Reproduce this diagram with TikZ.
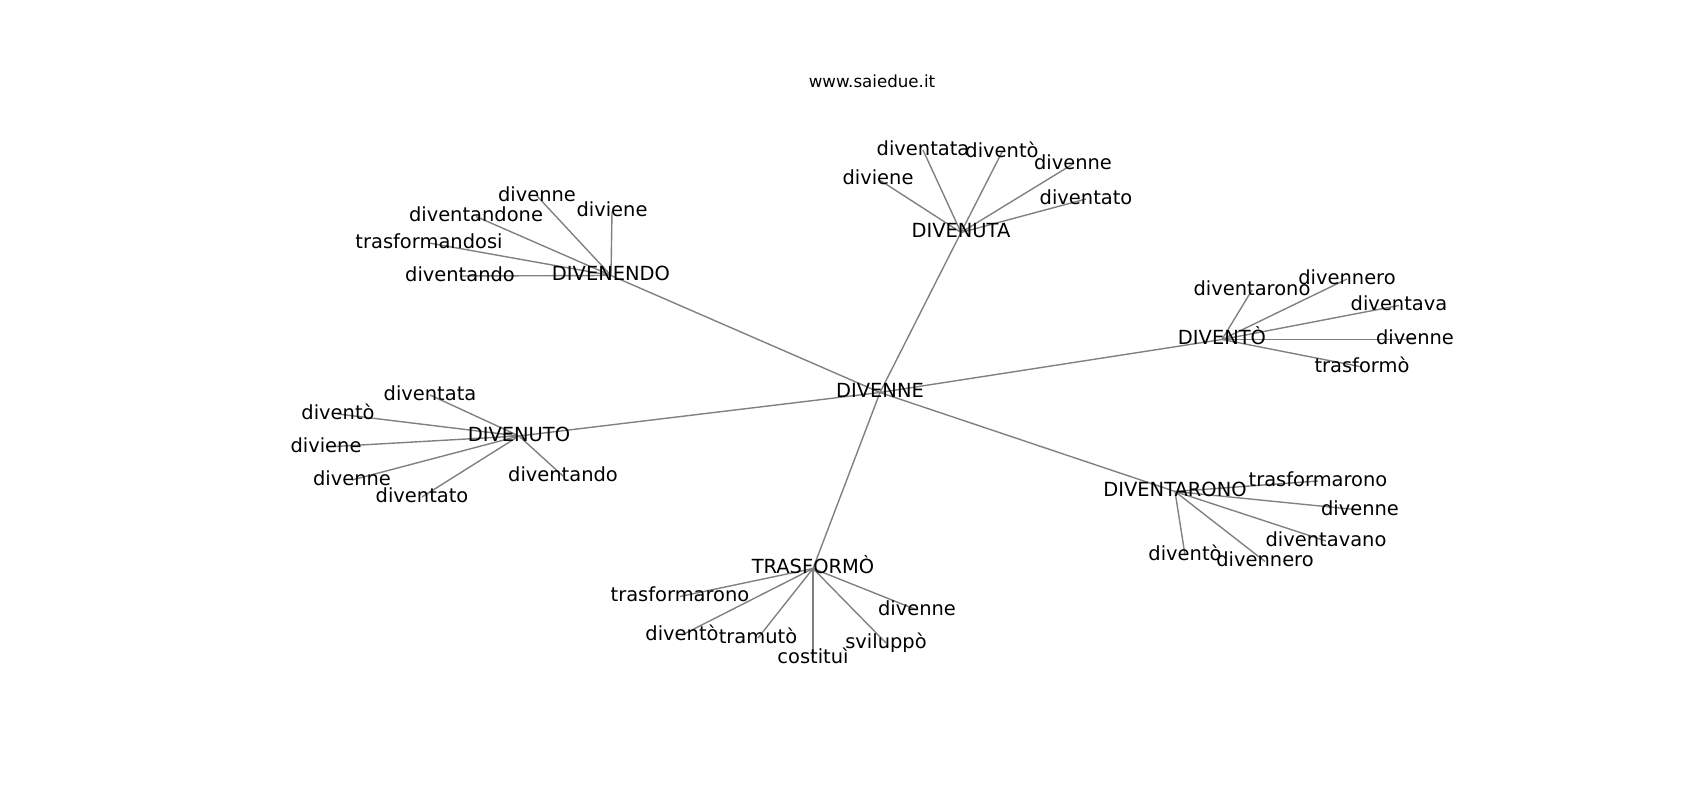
\documentclass[tikz,border=0pt]{standalone}
\usepackage{fontspec}
\setmainfont{DejaVu Sans}
\pgfdeclarelayer{background}
\pgfsetlayers{background,main}
\begin{document}
\begin{tikzpicture}[x=0.01in,y=-0.01in,
  lbl/.style={inner sep=0pt,outer sep=0pt,anchor=center,text height=10.64bp,text depth=2.91bp,font=\fontsize{14bp}{17bp}\selectfont},
  ttl/.style={inner sep=0pt,outer sep=0pt,anchor=center,text height=9.12bp,text depth=2.5bp,font=\fontsize{12bp}{14bp}\selectfont},
  edge/.style={draw=black!50,line width=1bp}]
\useasboundingbox (0,0) rectangle (1700,800);
\node[ttl] (title) at (872,83) {www.saiedue.it};
% centre
\node[lbl] (c) at (880,392.5) {DIVENNE};
% DIVENENDO
\node[lbl] (h1) at (611,275.5) {DIVENENDO};
\node[lbl] (h1a) at (537,196) {divenne};
\node[lbl] (h1b) at (612,211.5) {diviene};
\node[lbl] (h1c) at (476,216.5) {diventandone};
\node[lbl] (h1d) at (429,243) {trasformandosi};
\node[lbl] (h1e) at (460,276) {diventando};
% DIVENUTA
\node[lbl] (h2) at (961,232.5) {DIVENUTA};
\node[lbl] (h2a) at (923,150) {diventata};
\node[lbl] (h2b) at (1002,152) {diventò};
\node[lbl] (h2c) at (1073,164) {divenne};
\node[lbl] (h2d) at (878,179) {diviene};
\node[lbl] (h2e) at (1086,199) {diventato};
% DIVENTO
\node[lbl] (h3) at (1222,339.5) {DIVENTÒ};
\node[lbl] (h3a) at (1252,290) {diventarono};
\node[lbl] (h3b) at (1347,279) {divennero};
\node[lbl] (h3c) at (1399,305.5) {diventava};
\node[lbl] (h3d) at (1415,339.5) {divenne};
\node[lbl] (h3e) at (1362,367) {trasformò};
% DIVENUTO
\node[lbl] (h4) at (519,436) {DIVENUTO};
\node[lbl] (h4a) at (430,395) {diventata};
\node[lbl] (h4b) at (338,414) {diventò};
\node[lbl] (h4c) at (326,447) {diviene};
\node[lbl] (h4d) at (352,480) {divenne};
\node[lbl] (h4e) at (422,497) {diventato};
\node[lbl] (h4f) at (563,476) {diventando};
% TRASFORMO
\node[lbl] (h5) at (813,568.5) {TRASFORMÒ};
\node[lbl] (h5a) at (680,596.5) {trasformarono};
\node[lbl] (h5b) at (682,635) {diventò};
\node[lbl] (h5c) at (758,638) {tramutò};
\node[lbl] (h5d) at (813,658) {costituì};
\node[lbl] (h5e) at (886,643) {sviluppò};
\node[lbl] (h5f) at (917,610) {divenne};
% DIVENTARONO
\node[lbl] (h6) at (1175,491.5) {DIVENTARONO};
\node[lbl] (h6a) at (1318,481) {trasformarono};
\node[lbl] (h6b) at (1360,510) {divenne};
\node[lbl] (h6c) at (1326,541) {diventavano};
\node[lbl] (h6d) at (1185,555) {diventò};
\node[lbl] (h6e) at (1265,561.5) {divennero};
\begin{pgfonlayer}{background}
\foreach \h in {h1,h2,h3,h4,h5,h6} \draw[edge] (c.center) -- (\h.center);
\foreach \l in {h1a,h1b,h1c,h1d,h1e} \draw[edge] (h1.center) -- (\l.center);
\foreach \l in {h2a,h2b,h2c,h2d,h2e} \draw[edge] (h2.center) -- (\l.center);
\foreach \l in {h3a,h3b,h3c,h3d,h3e} \draw[edge] (h3.center) -- (\l.center);
\foreach \l in {h4a,h4b,h4c,h4d,h4e,h4f} \draw[edge] (h4.center) -- (\l.center);
\foreach \l in {h5a,h5b,h5c,h5d,h5e,h5f} \draw[edge] (h5.center) -- (\l.center);
\foreach \l in {h6a,h6b,h6c,h6d,h6e} \draw[edge] (h6.center) -- (\l.center);
\end{pgfonlayer}
\end{tikzpicture}
\end{document}
